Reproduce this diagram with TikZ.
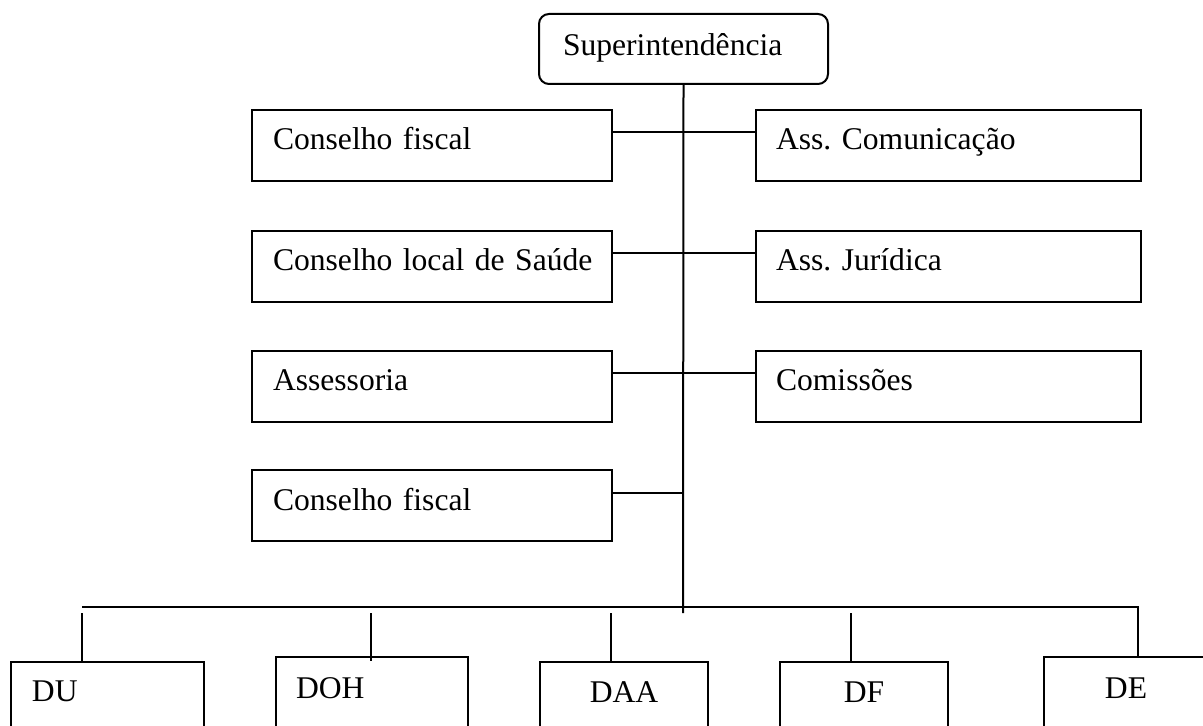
\documentclass[tikz,border=0pt]{standalone}
\usepackage{fontspec}
\setmainfont{Liberation Serif}

\begin{document}
\begin{tikzpicture}[
  x=0.5pt, y=-0.5pt,
  font=\fontsize{15.8pt}{19pt}\selectfont\frenchspacing,
  line width=1pt,
  head/.style={draw,rounded corners=5pt,anchor=north west,inner xsep=12pt,
               inner ysep=0pt,text width=120.5pt,text height=21pt,
               text depth=14pt,align=left},
  unit/.style={draw,anchor=north west,inner xsep=10.5pt,inner ysep=0pt,
               text width=159pt,text height=20pt,text depth=15.5pt,align=left},
  wide/.style={unit,inner xsep=10pt,text width=172.5pt},
  dept/.style={draw,anchor=north west,inner xsep=10pt,inner ysep=0pt,
               text width=64pt,text height=20pt,text depth=40pt,align=center}
]
\clip (0,0) rectangle (1203,726);
\node[head] (sup) at (538,13) {Superintendência};

% left column
\node[unit] (cf1) at (251,109) {Conselho fiscal};
\node[unit] (cls) at (251,230) {\mbox{Conselho local de Saúde}};
\node[unit] (ass) at (251,350) {Assessoria};
\node[unit] (cf2) at (251,469) {Conselho fiscal};

% right column
\node[wide] (com) at (755,109) {Ass. Comunicação};
\node[wide] (jur) at (755,230) {Ass. Jurídica};
\node[wide] (cms) at (755,350) {Comissões};

% directorates
\node[dept,inner xsep=10.5pt,text width=75.5pt,text height=19.5pt,align=left]
  (du) at (10,661) {DU};
\node[dept,text width=76pt,text height=20.5pt,align=left] (doh) at (275,656) {DOH};
\node[dept] (daa) at (539,661) {DAA};
\node[dept] (df) at (779,661) {DF};
\node[dept,text width=62pt,text height=20.5pt] (de) at (1043,656) {DE};

% trunk and bus
\coordinate (tend) at (683,613);
\coordinate (bl) at (82,607);
\coordinate (br) at (1138,607);
\draw (sup.south) -- (tend);
\draw (bl) -- (br) -- (br |- de.north);

% stubs
\coordinate (s1) at (82,613);
\coordinate (s2) at (371,613);
\coordinate (s3) at (611,613);
\coordinate (s4) at (851,613);
\foreach \s in {s1,s2,s3,s4}
  \draw (\s) -- (\s |- daa.north);

% side links
\draw ([yshift=-11.5pt]cf1.north east) -- ([yshift=-11.5pt]com.north west);
\draw ([yshift=-11.5pt]cls.north east) -- ([yshift=-11.5pt]jur.north west);
\draw ([yshift=-11.5pt]ass.north east) -- ([yshift=-11.5pt]cms.north west);
\draw ([yshift=-12pt]cf2.north east) -- ([yshift=-12pt]cf2.north east -| sup.south);
\end{tikzpicture}
\end{document}
